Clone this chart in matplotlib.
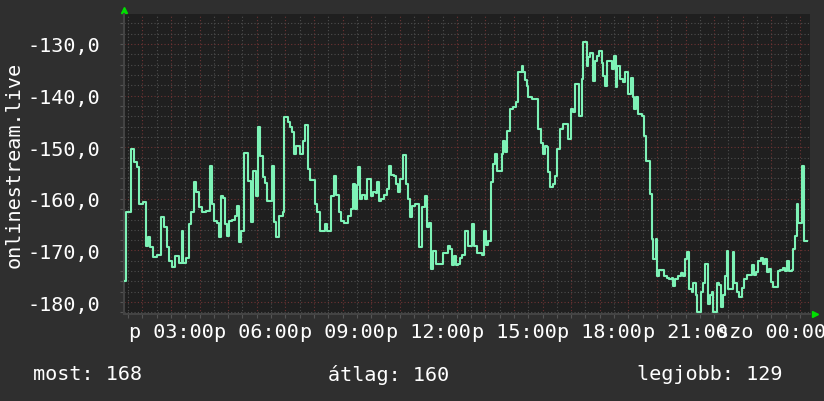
import matplotlib
matplotlib.use("Agg")
import matplotlib.pyplot as plt
from matplotlib.ticker import MultipleLocator, FuncFormatter

# time of day in hours (24+ = next day, "szo"), value of onlinestream.live
hours = [1.39, 1.42, 1.57, 1.60, 1.71, 1.81, 1.88, 2.02, 2.13, 2.20, 2.27, 2.37, 2.51, 2.65, 2.75, 2.86,
         2.93, 3.04, 3.14, 3.28, 3.39, 3.42, 3.53, 3.63, 3.70, 3.81, 3.88, 3.98, 4.09, 4.23, 4.37, 4.44,
         4.51, 4.61, 4.68, 4.75, 4.82, 4.89, 4.96, 5.03, 5.14, 5.24, 5.31, 5.38, 5.45, 5.56, 5.70, 5.80,
         5.87, 5.98, 6.05, 6.12, 6.22, 6.29, 6.36, 6.54, 6.61, 6.68, 6.78, 6.92, 6.96, 7.10, 7.17, 7.24,
         7.31, 7.38, 7.52, 7.62, 7.69, 7.80, 7.87, 8.04, 8.11, 8.22, 8.39, 8.46, 8.60, 8.71, 8.78, 8.88,
         8.95, 9.06, 9.20, 9.30, 9.37, 9.44, 9.51, 9.55, 9.62, 9.69, 9.79, 9.86, 10.00, 10.07, 10.18, 10.21,
         10.28, 10.35, 10.45, 10.56, 10.63, 10.70, 10.80, 10.87, 10.94, 11.01, 11.12, 11.22, 11.29, 11.36,
         11.43, 11.54, 11.68, 11.79, 11.89, 11.96, 12.03, 12.10, 12.17, 12.28, 12.45, 12.52, 12.69, 12.76,
         12.83, 12.90, 12.97, 13.04, 13.11, 13.18, 13.29, 13.40, 13.54, 13.61, 13.71, 13.89, 13.96, 14.03,
         14.10, 14.20, 14.27, 14.34, 14.41, 14.52, 14.59, 14.62, 14.69, 14.76, 14.87, 14.97, 15.08, 15.15,
         15.29, 15.32, 15.39, 15.46, 15.50, 15.64, 15.81, 15.85, 15.95, 16.02, 16.09, 16.16, 16.20, 16.27,
         16.37, 16.44, 16.51, 16.62, 16.72, 16.83, 16.90, 17.00, 17.07, 17.14, 17.21, 17.28, 17.39, 17.42,
         17.49, 17.56, 17.60, 17.67, 17.74, 17.77, 17.84, 17.91, 17.98, 18.08, 18.12, 18.19, 18.26, 18.33,
         18.43, 18.50, 18.57, 18.61, 18.71, 18.82, 18.89, 18.96, 18.99, 19.10, 19.17, 19.21, 19.28, 19.35,
         19.49, 19.56, 19.63, 19.70, 19.77, 19.84, 19.87, 19.94, 19.98, 20.01, 20.08, 20.19, 20.26, 20.36,
         20.43, 20.54, 20.57, 20.64, 20.75, 20.85, 20.92, 20.99, 21.06, 21.13, 21.24, 21.27, 21.38, 21.41,
         21.48, 21.55, 21.62, 21.69, 21.76, 21.80, 21.87, 21.94, 21.97, 22.04, 22.11, 22.18, 22.25, 22.32,
         22.39, 22.46, 22.50, 22.60, 22.67, 22.71, 22.81, 22.88, 22.99, 23.06, 23.16, 23.27, 23.34, 23.41,
         23.48, 23.55, 23.65, 23.72, 23.79, 23.86, 23.93, 24.00, 24.07, 24.17, 24.24, 24.31, 24.42, 24.49,
         24.56, 24.63, 24.73, 24.77, 24.84, 24.91, 24.94, 25.01, 25.08, 25.12, 25.15, 25.26]
values = [-175.9, -162.6, -162.6, -150.3, -152.9, -153.9, -161.0, -160.6, -169.1, -167.4, -169.4, -171.3,
          -170.8, -163.5, -165.5, -169.4, -172.0, -173.2, -171.1, -172.4, -166.2, -172.4, -171.5, -164.9,
          -162.6, -156.7, -158.6, -161.6, -162.6, -162.3, -153.6, -161.0, -164.3, -164.6, -167.4, -159.5,
          -159.8, -164.9, -167.1, -164.3, -164.0, -163.3, -161.3, -168.4, -166.2, -151.2, -156.6, -164.5,
          -154.6, -159.5, -146.1, -151.7, -155.8, -156.9, -160.4, -153.6, -164.5, -167.4, -163.3, -162.6,
          -144.1, -145.1, -146.1, -147.1, -151.3, -149.8, -151.3, -148.8, -145.7, -154.2, -156.4, -161.0,
          -162.6, -166.2, -164.9, -166.3, -159.5, -155.5, -159.2, -162.6, -164.3, -164.6, -163.3, -162.0,
          -157.1, -162.0, -157.4, -153.8, -160.0, -159.2, -160.0, -156.2, -159.5, -158.6, -158.9, -156.7,
          -160.4, -160.0, -159.2, -158.1, -153.6, -155.3, -155.6, -157.1, -158.7, -156.2, -151.5, -157.1,
          -160.0, -163.5, -161.3, -161.0, -169.4, -161.6, -159.5, -165.5, -164.6, -173.6, -170.1, -172.6,
          -172.6, -170.4, -169.1, -169.8, -172.9, -171.1, -172.9, -172.6, -171.5, -170.8, -166.2, -169.1,
          -164.9, -169.1, -170.4, -170.8, -166.2, -169.0, -168.2, -156.7, -153.3, -151.3, -154.6, -154.6,
          -151.3, -148.8, -151.0, -146.9, -142.6, -142.3, -141.2, -135.4, -134.2, -135.5, -136.9, -138.1,
          -140.3, -140.6, -140.6, -146.5, -149.1, -151.3, -149.7, -150.0, -154.8, -157.7, -157.1, -155.5,
          -150.3, -146.5, -145.6, -145.6, -148.4, -142.6, -143.2, -137.8, -137.8, -143.9, -136.8, -129.6,
          -129.6, -134.2, -132.6, -131.7, -131.7, -137.1, -133.3, -132.3, -131.4, -133.6, -136.2, -138.1,
          -133.3, -133.3, -134.9, -132.3, -138.4, -134.2, -136.8, -137.4, -135.5, -135.5, -139.7, -136.5,
          -140.3, -142.6, -140.3, -143.6, -143.9, -147.8, -152.7, -152.7, -159.1, -167.8, -171.7, -171.7,
          -167.8, -175.0, -173.8, -173.8, -175.0, -175.3, -175.6, -175.3, -176.9, -175.6, -175.0, -174.4,
          -175.0, -171.7, -170.3, -177.5, -178.1, -176.3, -178.7, -182.0, -182.0, -178.1, -176.3, -172.6,
          -172.6, -180.4, -178.7, -178.1, -182.0, -182.0, -176.3, -176.6, -181.0, -178.7, -175.0, -170.1,
          -177.5, -177.5, -170.3, -176.3, -178.1, -179.1, -177.2, -175.6, -174.8, -174.8, -172.9, -174.8,
          -174.2, -172.0, -171.4, -172.7, -171.6, -174.2, -173.6, -176.1, -177.0, -177.0, -174.0, -173.7,
          -173.4, -174.0, -172.0, -174.0, -173.7, -169.7, -167.2, -161.0, -164.6, -164.6, -153.6, -153.6,
          -168.2, -168.2]

legend_items = ["most: 168", "átlag: 160", "legjobb: 129"]
label_hours = [3, 6, 9, 12, 15, 18, 21, 24]

bg = '#2f2f2f'
plot_bg = '#1f1f1f'
mono = 'DejaVu Sans Mono'

fig = plt.figure(figsize=(8.24, 4.02), dpi=100, facecolor=bg)
ax = fig.add_axes([124 / 824, 87 / 402, 686 / 824, 300 / 402], facecolor=plot_bg)

ax.plot(hours, values, drawstyle='steps-post', color='#7df2b6', linewidth=1.5, zorder=3)

ax.set_xlim(1.355, 25.355)
ax.set_ylim(-182.3, -124.2)

# grid: grey minor, dark red major, dotted like rrdtool
ax.xaxis.set_major_locator(MultipleLocator(1))
ax.xaxis.set_minor_locator(MultipleLocator(0.5))
ax.yaxis.set_major_locator(MultipleLocator(10))
ax.yaxis.set_minor_locator(MultipleLocator(2))
ax.grid(which='minor', color='#4e4e4e', linestyle=(0, (1, 2)), linewidth=0.8, zorder=1)
ax.grid(which='major', color='#6e3434', linestyle=(0, (1, 2)), linewidth=0.8, zorder=2)


def xfmt(h, pos):
    h = int(round(h))
    if h not in label_hours:
        return ''
    day = 'p' if h < 24 else 'szo'
    return f"{day} {h % 24:02d}:00"


ax.xaxis.set_major_formatter(FuncFormatter(xfmt))
ax.yaxis.set_major_formatter(FuncFormatter(lambda v, p: f"{v:.1f}".replace('.', ',')))

ax.tick_params(axis='both', which='both', colors='#555555', length=3, width=0.8,
               labelcolor='white', labelsize=14.5)
ax.tick_params(axis='x', which='major', pad=3)
ax.tick_params(axis='y', which='major', pad=14)
for lab in ax.get_xticklabels() + ax.get_yticklabels():
    lab.set_family(mono)

for side in ['top', 'right']:
    ax.spines[side].set_visible(False)
for side in ['bottom', 'left']:
    ax.spines[side].set_color('#444444')
    ax.spines[side].set_linewidth(1.5)

# rrdtool style axis arrows
ax.plot([0], [1.013], marker='^', color='#00e000', markersize=5, transform=ax.transAxes, clip_on=False)
ax.plot([1.007], [0], marker='>', color='#00e000', markersize=5, transform=ax.transAxes, clip_on=False)

fig.text(14 / 824, 1 - 165 / 402, "onlinestream.live", rotation=90, color='white',
         fontsize=14.5, family=mono, ha='center', va='center')

for txt, xpix in zip(legend_items, [33, 328, 637]):
    fig.text(xpix / 824, 1 - 375 / 402, txt, color='white', fontsize=14.5, family=mono,
             ha='left', va='center')

fig.savefig('out.png', dpi=100, facecolor=bg)
